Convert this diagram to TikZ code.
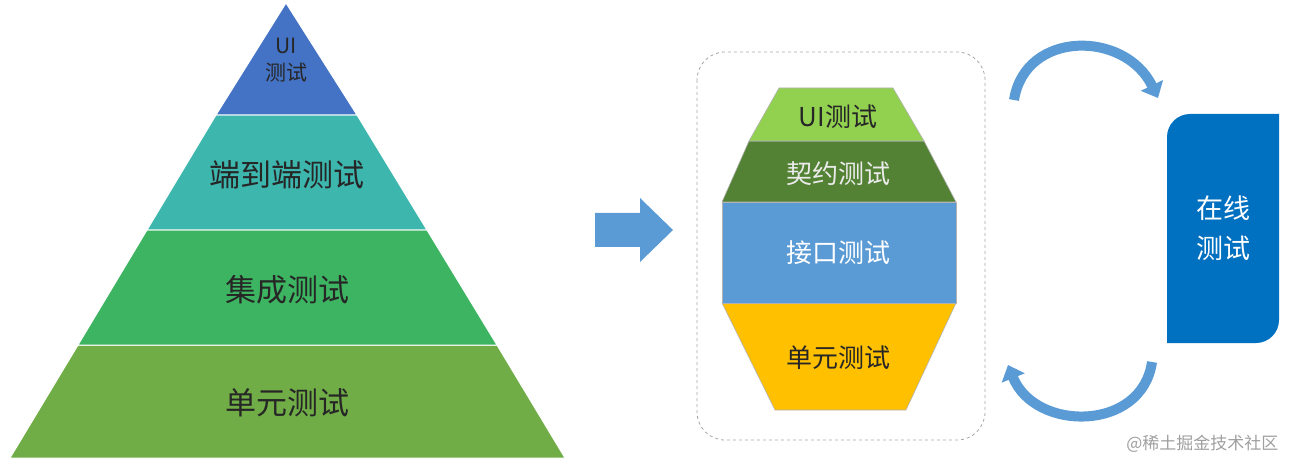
\documentclass[tikz,border=0pt]{standalone}
\usepackage{fontspec}
\newfontfamily\cjk{Noto Sans CJK SC}
\usetikzlibrary{arrows.meta}
\definecolor{cUI}{HTML}{4472C4}
\definecolor{cE2E}{HTML}{3DB6AE}
\definecolor{cInt}{HTML}{3DB461}
\definecolor{cUnit}{HTML}{70AD47}
\definecolor{hUI}{HTML}{92D050}
\definecolor{hCon}{HTML}{548235}
\definecolor{hApi}{HTML}{5B9BD5}
\definecolor{hUnit}{HTML}{FFC000}
\definecolor{cOnline}{HTML}{0070C0}
\definecolor{cArr}{HTML}{5B9BD5}
\tikzset{lbl/.style={font=\cjk\fontsize{31}{36}\selectfont, text=black!85},
 hl/.style={font=\cjk\fontsize{26}{30}\selectfont},
 band/.style={draw=white, line width=1pt},
 hband/.style={draw=gray!60, line width=0.6pt}}
\begin{document}
\begin{tikzpicture}[x=1pt,y=-1pt]
\useasboundingbox (0,0) rectangle (1295,470);
% pyramid
\fill[cUnit,band] (10,458) -- (565,458) -- (497,345) -- (78,345) -- cycle;
\fill[cInt,band] (78,345) -- (497,345) -- (427,230) -- (147,230) -- cycle;
\fill[cE2E,band] (147,230) -- (427,230) -- (357,115) -- (216,115) -- cycle;
\fill[cUI,band] (216,115) -- (357,115) -- (286,3) -- cycle;
\node[font=\cjk\fontsize{21}{27}\selectfont, align=center, text=black!85] (pui) at (286,60) {UI\\测试};
\node[lbl] (pe2e) at (287,175) {端到端测试};
\node[lbl] (pint) at (287,290) {集成测试};
\node[lbl] (punit) at (287,403) {单元测试};
% big arrow
\fill[cArr] (595,213) -- (640,213) -- (640,198) -- (673,230) -- (640,262) -- (640,247) -- (595,247) -- cycle;
\coordinate (bigarrow) at (634,230);
% dashed box
\draw[dashed, gray!70, rounded corners=28pt, line width=0.8pt] (697,52) rectangle (985,440);
% hexagon
\filldraw[hUnit,hband] (722,303) -- (956,303) -- (906,410) -- (775,410) -- cycle;
\filldraw[hApi,hband] (722,202) rectangle (956,303);
\filldraw[hCon,hband] (722,202) -- (956,202) -- (924,141) -- (749,141) -- cycle;
\filldraw[hUI,hband] (749,141) -- (924,141) -- (893,88) -- (779,88) -- cycle;
\node[hl, text=black!85] (hui) at (838,117) {UI测试};
\node[hl, text=white!92!black] (hcon) at (838,174) {契约测试};
\node[hl, text=white] (hapi) at (838,253) {接口测试};
\node[hl, text=black!85] (hunit) at (838,358) {单元测试};
% online box
\fill[cOnline] (1190,114) -- (1279,114) -- (1279,320) arc (0:90:23) -- (1167,343) -- (1167,137) arc (180:270:23) -- cycle;
\node[font=\cjk\fontsize{27}{40}\selectfont, text=white, align=center] (online) at (1223,228) {在线\\测试};
% curved arrows
\coordinate (a1) at (1014,100);
\coordinate (a2) at (1158,98);
\coordinate (b1) at (1152,362);
\coordinate (b2) at (1008,365);
\draw[cArr, line width=10pt, -{Triangle[length=14pt,width=24pt]}] (a1) .. controls (1025,30) and (1125,30) .. (a2);
\draw[cArr, line width=10pt, -{Triangle[length=14pt,width=24pt]}] (b1) .. controls (1142,432) and (1035,432) .. (b2);
% watermark
\node[font=\cjk\fontsize{17}{20}\selectfont, text=gray!75, anchor=east] (wm) at (1282,444) {@稀土掘金技术社区};
\end{tikzpicture}
\end{document}
